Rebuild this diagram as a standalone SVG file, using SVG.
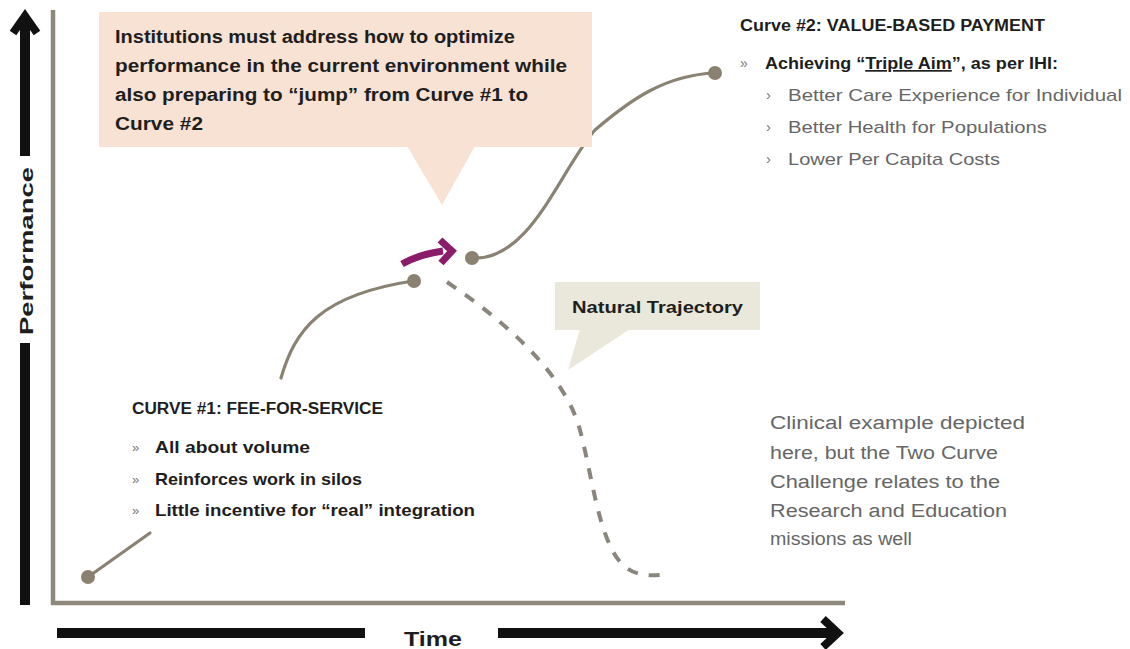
<svg xmlns="http://www.w3.org/2000/svg" width="1130" height="649" viewBox="0 0 1130 649">
  <style>
    .axis { stroke: #8d877c; stroke-width: 4.5; fill: none; }
    .dir { stroke: #111; stroke-width: 10; fill: none; }
    .head { stroke: #111; stroke-width: 8; fill: none; stroke-linejoin: miter; }
    .curve { stroke: #8a8373; stroke-width: 3.2; fill: none; stroke-linecap: round; }
    .dash { stroke: #8a867e; stroke-width: 4; fill: none; stroke-dasharray: 11 11; }
    .dot { fill: #8a8171; }
    .bold { font-family: "Liberation Sans", Arial, sans-serif; font-weight: bold; fill: #1e1e1e; }
    .plain { font-family: "Liberation Sans", Arial, sans-serif; fill: #666; }
    .bul { font-family: "Liberation Sans", Arial, sans-serif; fill: #777; }
  </style>

  <rect width="1130" height="649" fill="#fff"/>

  <!-- axis frame -->
  <g id="axes">
    <line class="axis" x1="53" y1="10" x2="53" y2="605"/>
    <line class="axis" x1="51" y1="603" x2="845" y2="603"/>
  </g>

  <!-- performance direction arrow -->
  <g id="performance-label">
    <line class="dir" x1="25" y1="20" x2="25" y2="156"/>
    <polyline class="head" points="13,33 25,16 37,33"/>
    <line class="dir" x1="25" y1="343" x2="25" y2="605"/>
    <text class="bold" font-size="19" transform="translate(33,251) rotate(-90)" text-anchor="middle" textLength="168" lengthAdjust="spacingAndGlyphs">Performance</text>
  </g>

  <!-- time direction arrow -->
  <g id="time-label">
    <line class="dir" x1="57" y1="633" x2="365" y2="633"/>
    <line class="dir" x1="498" y1="633" x2="834" y2="633"/>
    <polyline class="head" points="823,619 838,633 823,647"/>
    <text class="bold" font-size="20" x="404" y="646" textLength="58" lengthAdjust="spacingAndGlyphs">Time</text>
  </g>

  <!-- connectors: curves, trajectory, jump -->
  <g id="connectors">
    <line class="curve" x1="88" y1="577" x2="150" y2="533"/>
    <path class="curve" d="M281 378 C295 330 320 295 413 281"/>
    <path class="curve" d="M472 258 C530 262 560 170 595 130 C630 100 665 75 715 73"/>
    <path class="dash" d="M447 282 C525 335 568 385 580 430 C592 475 598 535 620 562 C632 575 645 576 660 575"/>
    <path d="M402 264 Q420 254 443 251" stroke="#8b1c6c" stroke-width="7" fill="none"/>
    <polyline points="440,240 452,251 441,263" stroke="#8b1c6c" stroke-width="7" fill="none"/>
  </g>

  <!-- curve end points -->
  <g id="points">
    <circle class="dot" cx="88" cy="577" r="7"/>
    <circle class="dot" cx="414" cy="281" r="7"/>
    <circle class="dot" cx="472" cy="258" r="7"/>
    <circle class="dot" cx="715" cy="73" r="7"/>
  </g>

  <!-- top callout -->
  <g id="jump-callout">
    <rect x="99" y="12" width="493" height="135" fill="#f7e2d4"/>
    <polygon points="407,146 475,146 442,205" fill="#f7e2d4"/>
    <text class="bold" font-size="18">
      <tspan x="115" y="43" textLength="400" lengthAdjust="spacingAndGlyphs">Institutions must address how to optimize</tspan>
      <tspan x="115" y="72" textLength="452" lengthAdjust="spacingAndGlyphs">performance in the current environment while</tspan>
      <tspan x="115" y="101" textLength="413" lengthAdjust="spacingAndGlyphs">also preparing to “jump” from Curve #1 to</tspan>
      <tspan x="115" y="130" textLength="88" lengthAdjust="spacingAndGlyphs">Curve #2</tspan>
    </text>
  </g>

  <!-- curve #2 description -->
  <g id="curve2">
    <text class="bold" font-size="16" x="740" y="31" textLength="305" lengthAdjust="spacingAndGlyphs">Curve #2: VALUE-BASED PAYMENT</text>
    <text class="bul" font-size="14" x="740" y="68">»</text>
    <text class="bold" font-size="17" x="765" y="69" textLength="293" lengthAdjust="spacingAndGlyphs">Achieving “<tspan text-decoration="underline">Triple Aim</tspan>”, as per IHI:</text>
    <text class="bul" font-size="15" x="766" y="100">›</text>
    <text class="bul" font-size="15" x="766" y="132">›</text>
    <text class="bul" font-size="15" x="766" y="164">›</text>
    <text class="plain" font-size="17">
      <tspan x="788" y="101" textLength="334" lengthAdjust="spacingAndGlyphs">Better Care Experience for Individual</tspan>
      <tspan x="788" y="133" textLength="259" lengthAdjust="spacingAndGlyphs">Better Health for Populations</tspan>
      <tspan x="788" y="165" textLength="212" lengthAdjust="spacingAndGlyphs">Lower Per Capita Costs</tspan>
    </text>
  </g>

  <!-- natural trajectory callout -->
  <g id="trajectory-callout">
    <rect x="555" y="282" width="205" height="48" fill="#e9e8db"/>
    <polygon points="580,329 630,329 568,370" fill="#e9e8db"/>
    <text class="bold" font-size="17" x="572" y="313" textLength="171" lengthAdjust="spacingAndGlyphs">Natural Trajectory</text>
  </g>

  <!-- curve #1 description -->
  <g id="curve1">
    <text class="bold" font-size="16" x="132" y="414" textLength="251" lengthAdjust="spacingAndGlyphs" fill="#2a2a2a">CURVE #1: FEE-FOR-SERVICE</text>
    <text class="bul" font-size="13">
      <tspan x="132" y="452">»</tspan>
      <tspan x="132" y="484">»</tspan>
      <tspan x="132" y="515">»</tspan>
    </text>
    <text class="bold" font-size="17">
      <tspan x="155" y="453" textLength="155" lengthAdjust="spacingAndGlyphs">All about volume</tspan>
      <tspan x="155" y="485" textLength="207" lengthAdjust="spacingAndGlyphs">Reinforces work in silos</tspan>
      <tspan x="155" y="516" textLength="320" lengthAdjust="spacingAndGlyphs">Little incentive for “real” integration</tspan>
    </text>
  </g>

  <!-- side note -->
  <g id="note">
    <text class="plain" font-size="18">
      <tspan x="770" y="429" textLength="255" lengthAdjust="spacingAndGlyphs">Clinical example depicted</tspan>
      <tspan x="770" y="459" textLength="228" lengthAdjust="spacingAndGlyphs">here, but the Two Curve</tspan>
      <tspan x="770" y="488" textLength="230" lengthAdjust="spacingAndGlyphs">Challenge relates to the</tspan>
      <tspan x="770" y="517" textLength="237" lengthAdjust="spacingAndGlyphs">Research and Education</tspan>
      <tspan x="770" y="545" textLength="142" lengthAdjust="spacingAndGlyphs">missions as well</tspan>
    </text>
  </g>
</svg>
